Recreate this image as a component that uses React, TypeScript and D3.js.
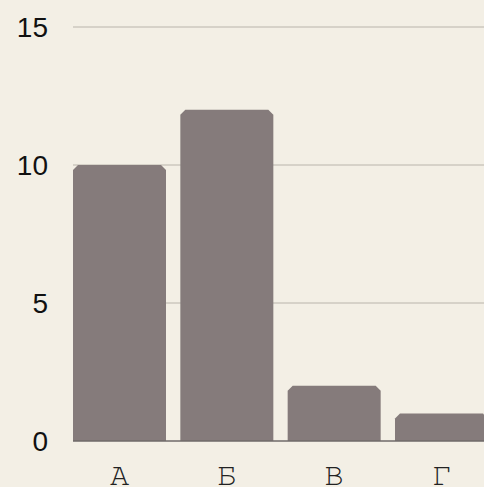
import * as d3 from 'd3'

const categories = ['А', 'Б', 'В', 'Г']
const values = [10, 12, 2, 1]
const yTicks = [0, 5, 10, 15]

const width = 484
const height = 487
const margin = { left: 73, right: -4, top: 27, bottom: 46 }

const App = () => {
  const xScale = d3
    .scaleBand()
    .domain(categories)
    .range([margin.left, width - margin.right])
    .paddingInner(0.1335)
    .paddingOuter(0)

  const yScale = d3
    .scaleLinear()
    .domain([0, 15])
    .range([height - margin.bottom, margin.top])

  const cut = 5

  // bar with clipped top corners
  const barPath = (x: number, y: number, w: number, h: number) => {
    const p = d3.path()
    p.moveTo(x, y + h)
    p.lineTo(x, y + cut)
    p.lineTo(x + cut, y)
    p.lineTo(x + w - cut, y)
    p.lineTo(x + w, y + cut)
    p.lineTo(x + w, y + h)
    p.closePath()
    return p.toString()
  }

  const bars = categories.map((c, i) => {
    const x = xScale(c) as number
    const y = yScale(values[i])
    return {
      key: c,
      d: barPath(x, y, xScale.bandwidth(), yScale(0) - y),
      cx: x + xScale.bandwidth() / 2,
    }
  })

  return (
    <svg
      width={width}
      height={height}
      style={{ position: 'absolute', left: 0, top: 0, background: '#f3efe5' }}
    >
      <rect x={0} y={0} width={width} height={height} fill="#f3efe5" />
      {yTicks
        .filter(t => t !== 0)
        .map(t => (
          <line
            key={t}
            x1={margin.left}
            x2={width}
            y1={yScale(t)}
            y2={yScale(t)}
            stroke="#b9b4ab"
            strokeWidth={1}
          />
        ))}
      {bars.map(b => (
        <path key={b.key} d={b.d} fill="#857b7b" />
      ))}
      <line
        x1={margin.left}
        x2={width}
        y1={yScale(0)}
        y2={yScale(0)}
        stroke="#6f6a68"
        strokeWidth={1.5}
      />
      {yTicks.map(t => (
        <text
          key={t}
          x={48}
          y={yScale(t)}
          textAnchor="end"
          dy="0.36em"
          fontFamily="'Liberation Sans', Arial, sans-serif"
          fontSize={28}
          fill="#111"
        >
          {t}
        </text>
      ))}
      {bars.map(b => (
        <text
          key={b.key}
          x={b.cx}
          y={485}
          textAnchor="middle"
          fontFamily="'Nimbus Mono PS', FreeMono, Courier, 'Liberation Mono', monospace"
          fontSize={32}
          fill="#222"
        >
          {b.key}
        </text>
      ))}
    </svg>
  )
}

export default App
